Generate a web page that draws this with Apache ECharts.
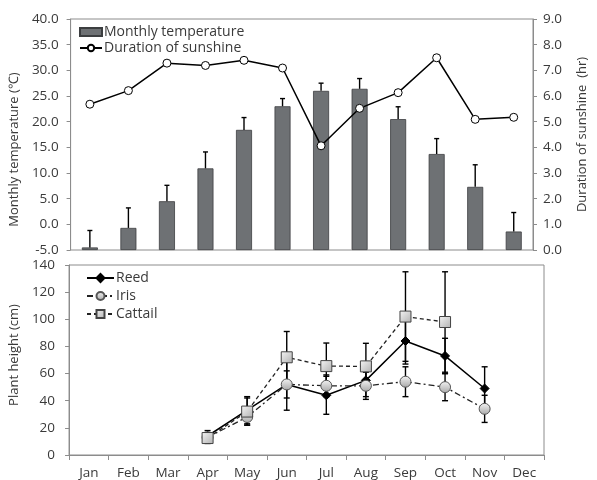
<!DOCTYPE html>
<html><head><meta charset="utf-8">
<script src="https://cdn.jsdelivr.net/npm/echarts@6/dist/echarts.min.js"></script>
<style>html,body{margin:0;padding:0;background:#fff}#c{width:597px;height:480px}</style>
</head><body><div id="c"></div>
<script>
const months = ['Jan','Feb','Mar','Apr','May','Jun','Jul','Aug','Sep','Oct','Nov','Dec'];
const tempMean = [-4.5,-0.7,4.5,10.9,18.4,23.0,26.0,26.4,20.5,13.7,7.3,-1.4];
const tempErr  = [3.3,3.9,3.1,3.2,2.4,1.5,1.5,2.0,2.4,3.0,4.3,3.7];
const sunshine = [5.68,6.21,7.28,7.19,7.39,7.09,4.06,5.52,6.13,7.49,5.09,5.17];
const reed       = [null,null,null,14,33,52,44,55,84,73,49,null];
const reedErr    = [null,null,null,4,10,19,14,12,17,13,16,null];
const iris       = [null,null,null,13,28,52,51,51,54,50,34,null];
const irisErr    = [null,null,null,3,6,10,8,10,11,10,10,null];
const cattail    = [null,null,null,12.5,32,72,65.5,65.3,102,98,null,null];
const cattailErr = [null,null,null,4,10,19,17,17,33,37,null,null];
const tempTicks = {min:-5, max:40, interval:5};
const sunTicks = {min:0, max:9, interval:1};
const heightTicks = {min:0, max:140, interval:20};

const FONT = 'Open Sans';
const TXT = '#3a3a3a';
const AX = '#8c8c8c';

function errData(vals, errs){
  const out = [];
  vals.forEach((v,i)=>{ if(v!=null && errs[i]!=null) out.push([i, v, errs[i]]); });
  return out;
}
function errRender(both, hw){
  return function(params, api){
    const i = api.value(0), v = api.value(1), e = api.value(2);
    const top = api.coord([i, v+e]);
    const bot = api.coord([i, both ? v-e : v]);
    const st = {stroke:'#000', lineWidth:1.4};
    const ch = [
      {type:'line', shape:{x1:top[0],y1:top[1],x2:bot[0],y2:bot[1]}, style:st},
      {type:'line', shape:{x1:top[0]-hw,y1:top[1],x2:top[0]+hw,y2:top[1]}, style:st}
    ];
    if(both) ch.push({type:'line', shape:{x1:bot[0]-hw,y1:bot[1],x2:bot[0]+hw,y2:bot[1]}, style:st});
    return {type:'group', children:ch};
  };
}

const chart = echarts.init(document.getElementById('c'), null, {renderer:'canvas'});
const axisLbl = {color:TXT, fontFamily:FONT, fontSize:13.5};
chart.setOption({
  animation:false,
  textStyle:{fontFamily:FONT},
  grid:[
    {left:63, right:53, top:19, height:231, show:true, borderColor:AX, borderWidth:1, backgroundColor:'transparent'},
    {left:67, right:53, top:265, height:192, show:true, borderColor:AX, borderWidth:1, backgroundColor:'transparent'}
  ],
  legend:[
    {data:[{name:'Monthly temperature', icon:'rect'}, {name:'Duration of sunshine'}],
     orient:'vertical', left:74, top:20, itemWidth:22, itemHeight:8, itemGap:2,
     textStyle:{color:TXT, fontFamily:FONT, fontSize:14, padding:[0,0,0,-3]}},
    {data:['Reed','Iris','Cattail'],
     orient:'vertical', left:81, top:266, itemWidth:27, itemHeight:10, itemGap:4,
     textStyle:{color:TXT, fontFamily:FONT, fontSize:14, padding:[0,0,0,-3]}}
  ],
  xAxis:[
    {type:'category', gridIndex:0, data:months, boundaryGap:true,
     axisLine:{show:false}, axisTick:{show:false}, axisLabel:{show:false}, splitLine:{show:false}},
    {type:'category', gridIndex:1, data:months, boundaryGap:true,
     axisLine:{show:true, lineStyle:{color:AX}}, axisTick:{show:true, length:5, lineStyle:{color:AX}},
     axisLabel:Object.assign({margin:11}, axisLbl), splitLine:{show:false}}
  ],
  yAxis:[
    {type:'value', gridIndex:0, position:'left', min:tempTicks.min, max:tempTicks.max, interval:tempTicks.interval,
     axisLine:{show:true, lineStyle:{color:AX}}, axisTick:{show:true, length:4, lineStyle:{color:AX}},
     axisLabel:Object.assign({margin:12, formatter:v=>v.toFixed(1)}, axisLbl), splitLine:{show:false},
     name:'Monthly temperature (\u2103)', nameLocation:'middle', nameRotate:90, nameGap:44,
     nameTextStyle:{color:TXT, fontFamily:FONT, fontSize:13, padding:[0,30,0,0]}},
    {type:'value', gridIndex:0, position:'right', min:sunTicks.min, max:sunTicks.max, interval:sunTicks.interval,
     axisLine:{show:true, lineStyle:{color:AX}}, axisTick:{show:true, length:4, lineStyle:{color:AX}},
     axisLabel:Object.assign({margin:10, formatter:v=>v.toFixed(1)}, axisLbl), splitLine:{show:false},
     name:'Duration of sunshine  (hr)', nameLocation:'middle', nameRotate:90, nameGap:43,
     nameTextStyle:{color:TXT, fontFamily:FONT, fontSize:13}},
    {type:'value', gridIndex:1, position:'left', min:heightTicks.min, max:heightTicks.max, interval:heightTicks.interval,
     axisLine:{show:true, lineStyle:{color:AX}}, axisTick:{show:true, length:4, lineStyle:{color:AX}},
     axisLabel:Object.assign({margin:14}, axisLbl), splitLine:{show:false},
     name:'Plant height (cm)', nameLocation:'middle', nameRotate:90, nameGap:36,
     nameTextStyle:{color:TXT, fontFamily:FONT, fontSize:13, padding:[0,0,0,10]}}
  ],
  series:[
    {name:'_base', type:'bar', xAxisIndex:0, yAxisIndex:0, stack:'t', stackStrategy:'all',
     data:months.map(()=>tempTicks.min), barWidth:16, itemStyle:{color:'rgba(0,0,0,0)'}, silent:true},
    {name:'Monthly temperature', type:'bar', xAxisIndex:0, yAxisIndex:0, stack:'t', stackStrategy:'all',
     data:tempMean.map(v=>v - tempTicks.min), barWidth:16,
     itemStyle:{color:'#6e7174', borderColor:'#3c3e40', borderWidth:0.8}},
    {name:'_tempErr', type:'custom', xAxisIndex:0, yAxisIndex:0, data:errData(tempMean, tempErr),
     encode:{x:0, y:1}, renderItem:errRender(false, 2.5), z:3, silent:true},
    {name:'Duration of sunshine', type:'line', xAxisIndex:0, yAxisIndex:1, data:sunshine,
     symbol:'circle', symbolSize:8, lineStyle:{color:'#000', width:1.5},
     itemStyle:{color:'#fff', borderColor:'#000', borderWidth:1}, z:5},

    {name:'_reedErr', type:'custom', xAxisIndex:1, yAxisIndex:2, data:errData(reed, reedErr),
     encode:{x:0, y:1}, renderItem:errRender(true, 3), z:2, silent:true},
    {name:'_irisErr', type:'custom', xAxisIndex:1, yAxisIndex:2, data:errData(iris, irisErr),
     encode:{x:0, y:1}, renderItem:errRender(true, 3), z:2, silent:true},
    {name:'_cattailErr', type:'custom', xAxisIndex:1, yAxisIndex:2, data:errData(cattail, cattailErr),
     encode:{x:0, y:1}, renderItem:errRender(true, 3), z:2, silent:true},
    {name:'Reed', type:'line', xAxisIndex:1, yAxisIndex:2, data:reed,
     symbol:'diamond', symbolSize:9, lineStyle:{color:'#000', width:1.5},
     itemStyle:{color:'#000', borderColor:'#000', borderWidth:1}, z:4},
    {name:'Iris', type:'line', xAxisIndex:1, yAxisIndex:2, data:iris,
     symbol:'circle', symbolSize:11, lineStyle:{color:'#222', width:1.3, type:[6,3,2,3]},
     itemStyle:{color:new echarts.graphic.LinearGradient(0,0,0,1,[{offset:0,color:'#f4f4f4'},{offset:1,color:'#a8a8a8'}]), borderColor:'#555', borderWidth:1}, z:5},
    {name:'Cattail', type:'line', xAxisIndex:1, yAxisIndex:2, data:cattail,
     symbol:'rect', symbolSize:11, lineStyle:{color:'#222', width:1.3, type:[4,3]},
     itemStyle:{color:new echarts.graphic.LinearGradient(0,0,1,1,[{offset:0,color:'#f6f6f6'},{offset:1,color:'#b0b0b0'}]), borderColor:'#444', borderWidth:1}, z:6}
  ]
});
</script></body></html>
